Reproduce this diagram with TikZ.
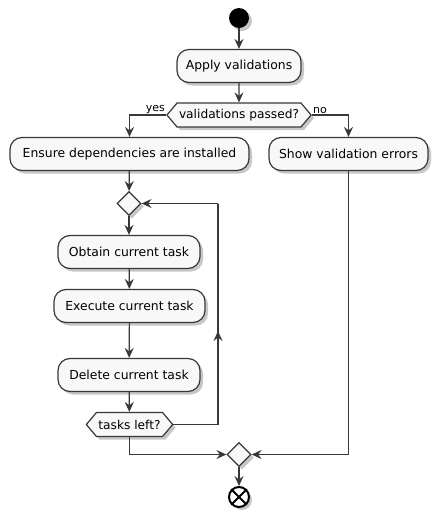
\documentclass[tikz,border=0pt]{standalone}
\usepackage{fontspec}
\setmainfont{DejaVu Sans}
\usetikzlibrary{shapes.geometric,shapes.symbols,arrows.meta,shadows}
\definecolor{ln}{HTML}{383838}
\definecolor{bx}{HTML}{F8F8F8}
\tikzset{
  shad/.style={drop shadow={shadow xshift=3pt,shadow yshift=-3pt,opacity=0.22,fill=black}},
  act/.style={draw=ln,fill=bx,line width=1.2pt,rounded corners=12pt,minimum height=33pt,inner sep=0pt,font=\fontsize{12.4}{14}\selectfont,shad},
  hexnode/.style={shape=signal,signal to=west and east,signal pointer angle=100,draw=ln,fill=bx,line width=1.2pt,minimum height=24pt,inner xsep=2pt,inner ysep=0pt,font=\fontsize{12.2}{14}\selectfont,shad},
  dia/.style={diamond,draw=ln,fill=bx,line width=1.2pt,minimum width=24pt,minimum height=24pt,inner sep=0pt,shad},
  conn/.style={draw=ln,line width=1.2pt},
  arr/.style={conn,-{Stealth[length=10pt,width=9pt,inset=3.5pt]}},
  lbl/.style={font=\fontsize{11}{13}\selectfont,inner sep=1pt}
}
\begin{document}
\begin{tikzpicture}[x=1pt,y=-1pt]
\useasboundingbox[fill=white] (0,0) rectangle (439,517);
\node[circle,fill=black,minimum size=20pt,inner sep=0pt,shad] (start) at (239,18) {};
\node[act,minimum width=124pt] (apply) at (239,66) {Apply validations};
\node[hexnode,minimum width=135pt] (vp) at (239,115) {validations passed?};
\node[act,minimum width=239pt] (ensure) at (129.5,154) {Ensure dependencies are installed};
\node[act,minimum width=159pt] (show) at (348.5,154) {Show validation errors};
\node[dia] (ld) at (129,203.5) {};
\node[act,minimum width=142pt] (obtain) at (129,252) {Obtain current task};
\node[act,minimum width=151pt] (exec) at (129.5,306) {Execute current task};
\node[act,minimum width=142pt] (del) at (129,375) {Delete current task};
\node[hexnode,minimum width=83pt] (tl) at (129.5,424.5) {tasks left?};
\node[dia] (md) at (239,454.5) {};
\node[circle,draw=black,fill=white,line width=2pt,minimum size=20pt,inner sep=0pt,shad] (end) at (239,497) {};
\draw[black,line width=2pt] (end.north west) -- (end.south east) (end.north east) -- (end.south west);
\coordinate (lb) at (218,424.5);
\coordinate (lt) at (218,203.5);
\coordinate (lm) at (218,331);
\draw[arr] (start) -- (apply);
\draw[arr] (apply) -- (vp);
\draw[arr] (vp.west) -| (ensure.north);
\draw[arr] (vp.east) -| (show.north);
\node[lbl,anchor=south east] at (vp.west) {yes};
\node[lbl,anchor=south west] at (vp.east) {no};
\draw[arr] (ensure) -- (ld);
\draw[arr] (ld) -- (obtain);
\draw[arr] (obtain) -- (exec);
\draw[arr] (exec) -- (del);
\draw[arr] (del) -- (tl);
\draw[conn] (tl.east) -- (lb) -- (lt);
\draw[arr] (lb) -- (lm);
\draw[arr] (lt) -- (ld.east);
\draw[arr] (tl.south) |- (md.west);
\draw[arr] (show.south) |- (md.east);
\draw[arr] (md) -- (end);
\end{tikzpicture}
\end{document}
